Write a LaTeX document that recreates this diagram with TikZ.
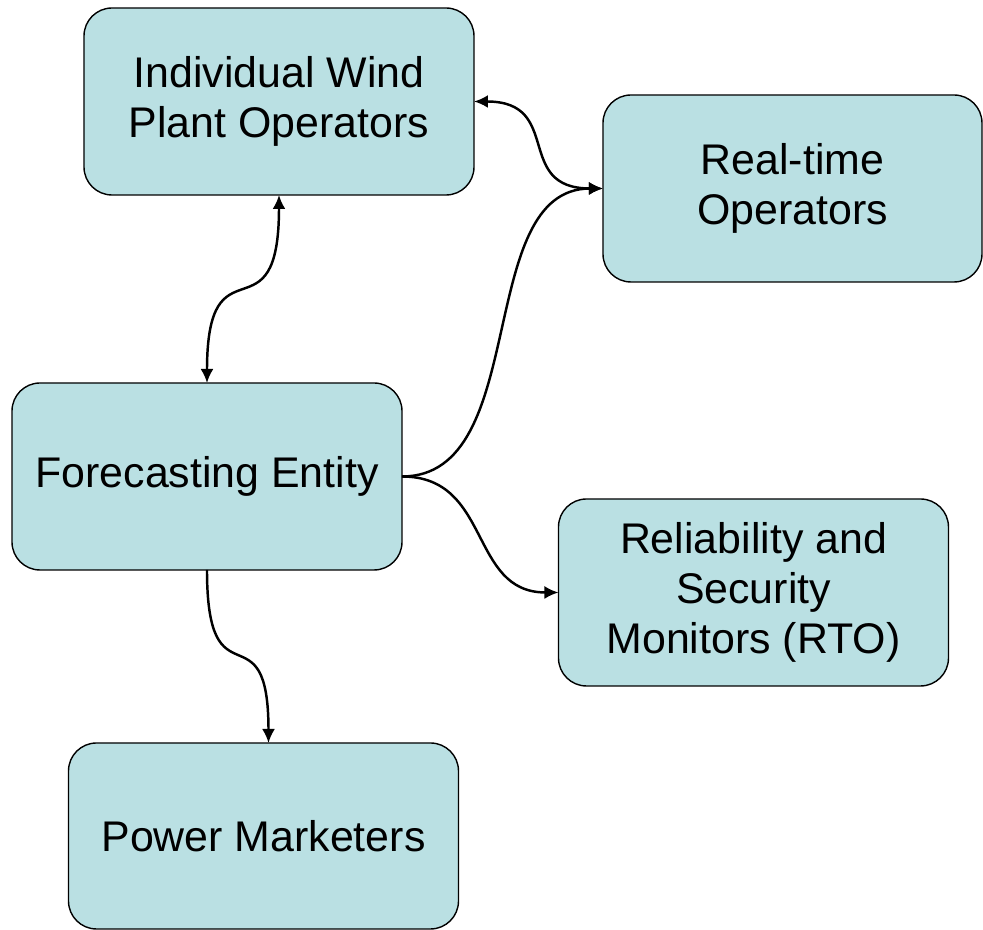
\documentclass[tikz,border=0pt]{standalone}
\usepackage{fontspec}
\setmainfont{Liberation Sans}
\usetikzlibrary{arrows.meta}
\begin{document}
\begin{tikzpicture}[party/.style = {draw = black, fill = boxcolor, rounded corners = 0.28cm, minimum width = 3.9cm, minimum height = 1.87cm, inner sep = 0, outer sep = 0, align = center, font = \fontsize{12.2}{14.2}\selectfont}, link/.style = {draw = black, line width = 0.7pt}, tip/.style = {{Latex[length = 1.4mm, width = 1.3mm]}}]
\definecolor{boxcolor}{RGB}{186,224,227}
\useasboundingbox (0,0) rectangle (9.83,-9.30);
\node[party] (wind) at (2.79,-1.015) {Individual Wind\\Plant Operators};
\node[party, minimum width = 3.79cm] (realtime) at (7.925,-1.885) {Real-time\\Operators};
\node[party] (forecast) at (2.07,-4.765) {Forecasting Entity};
\node[party] (monitors) at (7.535,-5.925) {Reliability and\\Security\\Monitors (RTO)};
\node[party, minimum height = 1.86cm] (market) at (2.635,-8.36) {Power Marketers};
\draw[link, {Latex[length = 1.4mm, width = 1.3mm]}-{Latex[length = 1.4mm, width = 1.3mm]}] (wind.south) .. controls +(0,-1.5) and +(0,1.5) .. (forecast.north);
\draw[link, {Latex[length = 1.4mm, width = 1.3mm]}-{Latex[length = 1.4mm, width = 1.3mm]}] (wind.east) .. controls +(0.9,0) and +(-0.9,0) .. (realtime.west);
\draw[link, -{Latex[length = 1.4mm, width = 1.3mm]}] (forecast.east) .. controls +(1.3,0) and +(-1.3,0) .. (realtime.west);
\draw[link, -{Latex[length = 1.4mm, width = 1.3mm]}] (forecast.east) .. controls +(0.9,0) and +(-0.9,0) .. (monitors.west);
\draw[link, -{Latex[length = 1.4mm, width = 1.3mm]}] (forecast.south) .. controls +(0,-1.4) and +(0,1.4) .. ([xshift = 0.05cm]market.north);
\end{tikzpicture}
\end{document}
